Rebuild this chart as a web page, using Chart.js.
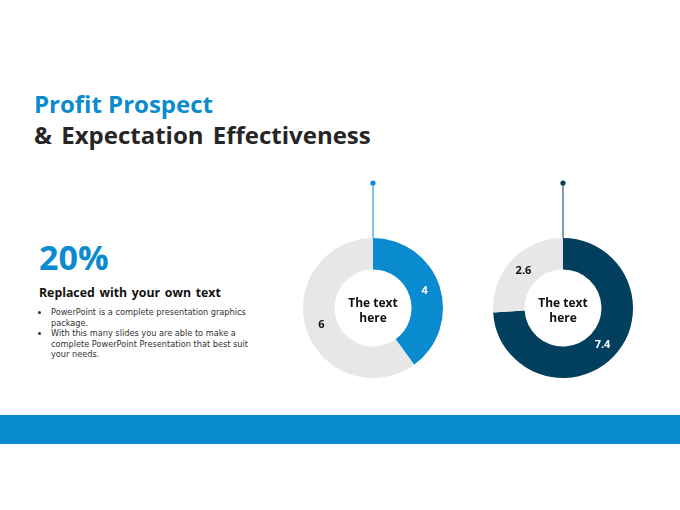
<!DOCTYPE html>
<html>
<head>
<meta charset="utf-8">
<script src="https://cdn.jsdelivr.net/npm/chart.js@4/dist/chart.umd.min.js"></script>
<style>
  html, body { margin:0; padding:0; background:#fff; width:680px; height:510px; overflow:hidden; }
  body { position:relative; font-family:"Open Sans", "Noto Sans", sans-serif; }
  .t1 { position:absolute; left:34px; top:87px; font-size:24px; font-weight:700; color:#0a8acf; white-space:nowrap; }
  .t2 { position:absolute; left:34px; top:118px; font-size:24px; font-weight:700; color:#262626; white-space:nowrap; word-spacing:3px; }
  .pct { position:absolute; left:39px; top:234px; font-size:34px; font-weight:700; color:#0a8acf; }
  .sub { position:absolute; left:39px; top:284px; font-size:12.3px; font-weight:700; color:#111; word-spacing:1.5px; white-space:nowrap; }
  ul { position:absolute; left:39px; top:307px; margin:0; padding:0 0 0 11px; font-family:"DejaVu Sans", sans-serif; font-size:8.2px; line-height:10.5px; color:#333; white-space:nowrap; }
  li { margin:0; padding-left:1px; }
  .band { position:absolute; left:0; top:415px; width:680px; height:29px; background:#0a8acf; }
  .cv { position:absolute; width:160px; height:215px; top:173px; }
</style>
</head>
<body>
<div class="t1">Profit Prospect</div>
<div class="t2">&amp; Expectation Effectiveness</div>
<div class="pct">20%</div>
<div class="sub">Replaced with your own text</div>
<ul>
  <li>PowerPoint is a complete presentation graphics<br>package.</li>
  <li>With this many slides you are able to make a<br>complete PowerPoint Presentation that best suit<br>your needs.</li>
</ul>
<div class="band"></div>
<div class="cv" style="left:293px"><canvas id="c1" width="160" height="215"></canvas></div>
<div class="cv" style="left:483px"><canvas id="c2" width="160" height="215"></canvas></div>
<script>
const categories = ["Value", "Rest"];
const seriesA = [4, 6];
const seriesB = [7.4, 2.6];
const centerLabel = ["The text", "here"];

const BLUE = "#0a8acf", NAVY = "#023f5f", GRAY = "#e8e7e8";

const decor = {
  id: "decor",
  afterDatasetsDraw(chart, args, opts) {
    const ctx = chart.ctx;
    const meta = chart.getDatasetMeta(0);
    const arc0 = meta.data[0];
    const cx = arc0.x, cy = arc0.y, R = arc0.outerRadius;
    ctx.save();
    ctx.strokeStyle = opts.stem;
    ctx.lineWidth = 1;
    ctx.beginPath();
    ctx.moveTo(cx, cy - R);
    ctx.lineTo(cx, cy - R - 55);
    ctx.stroke();
    ctx.fillStyle = opts.stem;
    ctx.beginPath();
    ctx.arc(cx, cy - R - 55, 2.6, 0, Math.PI * 2);
    ctx.fill();
    ctx.font = "bold 11px 'Open Sans', sans-serif";
    ctx.textAlign = "center";
    ctx.textBaseline = "middle";
    const ds = chart.data.datasets[0];
    meta.data.forEach((a, i) => {
      const p = a.tooltipPosition();
      ctx.fillStyle = opts.labelColors[i];
      ctx.fillText(String(ds.data[i]), p.x, p.y);
    });
    ctx.fillStyle = "#111";
    ctx.font = "bold 12px 'Open Sans', sans-serif";
    ctx.fillText(centerLabel[0], cx, cy - 4);
    ctx.fillText(centerLabel[1], cx, cy + 11);
    ctx.restore();
  }
};

function make(id, data, colors, stem, labelColors) {
  return new Chart(document.getElementById(id), {
    type: "doughnut",
    data: { labels: categories, datasets: [{ data: data, backgroundColor: colors, borderWidth: 0 }] },
    options: {
      responsive: false,
      animation: false,
      cutout: "55%",
      layout: { padding: { top: 65, bottom: 10, left: 10, right: 10 } },
      plugins: { legend: { display: false }, tooltip: { enabled: false }, decor: { stem: stem, labelColors: labelColors } }
    },
    plugins: [decor]
  });
}
make("c1", seriesA, [BLUE, GRAY], BLUE, ["#ffffff", "#111111"]);
make("c2", seriesB, [NAVY, GRAY], NAVY, ["#ffffff", "#111111"]);
</script>
</body>
</html>
